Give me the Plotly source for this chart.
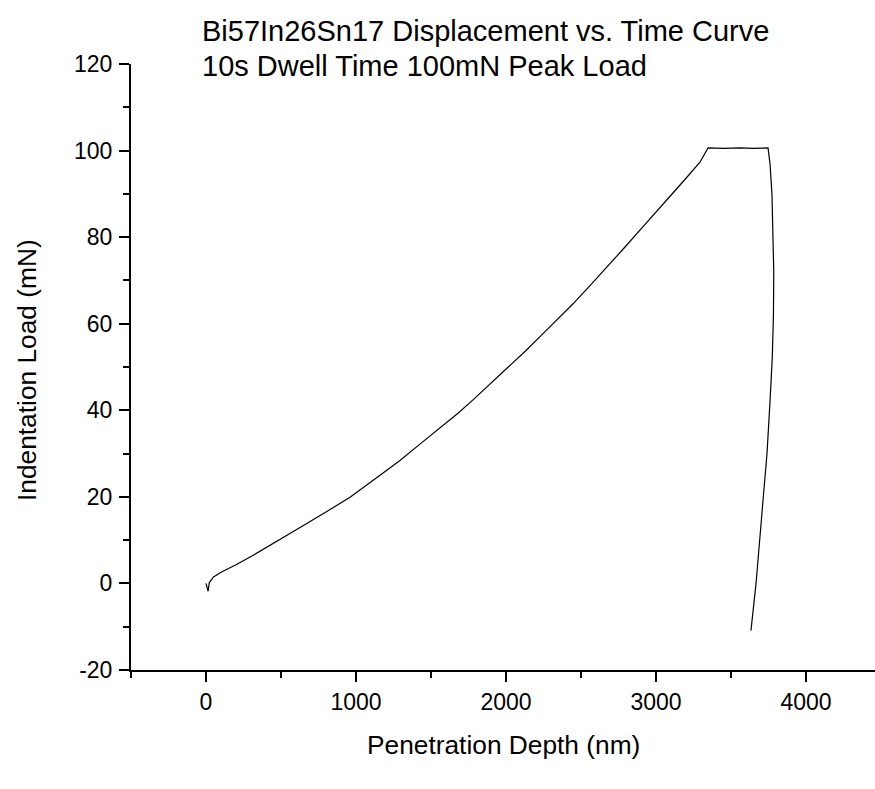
import plotly.graph_objects as go

# Loading segment
load_depth = [0, 14, 22, 50, 100, 200, 300, 400, 500, 627, 800, 960, 1160, 1293, 1420,
              1560, 1680, 1780, 1900, 2007, 2130, 2247, 2350, 2447, 2560, 2673, 2780,
              2893, 3000, 3113, 3200, 3293, 3347]
load_force = [0, -1.8, 0.2, 1.5, 2.6, 4.3, 6.2, 8.2, 10.3, 12.9, 16.5, 19.9, 25.0, 28.4, 32.0,
              35.9, 39.3, 42.4, 46.2, 49.7, 53.7, 57.7, 61.2, 64.6, 68.8, 73.0, 77.2,
              81.6, 85.9, 90.2, 93.6, 97.3, 100.6]
# Dwell (hold) segment
hold_depth = [3450, 3560, 3650, 3747]
hold_force = [100.5, 100.6, 100.5, 100.6]
# Unloading segment
unload_depth = [3760, 3773, 3780, 3785, 3783, 3775, 3760, 3740, 3713, 3690, 3667, 3633]
unload_force = [97, 90, 82, 72, 62, 52, 42, 30, 19, 10, 0, -10.9]

depth = load_depth + hold_depth + unload_depth
force = load_force + hold_force + unload_force

title_lines = ["Bi57In26Sn17 Displacement vs. Time Curve", "10s Dwell Time 100mN Peak Load"]
x_title = "Penetration Depth (nm)"
y_title = "Indentation Load (mN)"
x_tickvals = [0, 1000, 2000, 3000, 4000]
x_ticktext = ["0", "1000", "2000", "3000", "4000"]
y_tickvals = [-20, 0, 20, 40, 60, 80, 100, 120]
y_ticktext = ["-20", "0", "20", "40", "60", "80", "100", "120"]

FONT = "Liberation Sans, Arial, sans-serif"

fig = go.Figure()
fig.add_trace(go.Scatter(x=depth, y=force, mode="lines",
                         line=dict(color="black", width=1.2), showlegend=False))

W, H = 875, 789
L, R, T, B = 131, 0, 64, 119
pw, ph = W - L - R, H - T - B

axis_common = dict(showline=True, linecolor="black", linewidth=2, ticks="outside",
                   ticklen=10, tickwidth=2, tickcolor="black", showgrid=False,
                   zeroline=False, automargin=False,
                   tickfont=dict(family=FONT, size=23, color="black"))

fig.update_xaxes(range=[-500, 4460], tickmode="array", tickvals=x_tickvals,
                 ticktext=x_ticktext,
                 minor=dict(ticks="outside", tick0=0, dtick=500, ticklen=6, tickwidth=2,
                            tickcolor="black", showgrid=False),
                 **axis_common)
fig.update_yaxes(range=[-20, 120], tickmode="array", tickvals=y_tickvals,
                 ticktext=y_ticktext, ticklabelstandoff=2,
                 minor=dict(ticks="outside", tick0=0, dtick=10, ticklen=6, tickwidth=2,
                            tickcolor="black", showgrid=False),
                 **axis_common)

ann = []
ann.append(dict(text=title_lines[0], x=(200 - L) / pw, y=1 + (T - 31) / ph,
                xanchor="left", yanchor="middle"))
ann.append(dict(text=title_lines[1], x=(200 - L) / pw, y=1 + (T - 66) / ph,
                xanchor="left", yanchor="middle"))
for a in ann:
    a.update(xref="paper", yref="paper", showarrow=False,
             font=dict(family=FONT, size=29, color="black"))
ann.append(dict(text=x_title, x=(503 - L) / pw, y=-(745 - (T + ph)) / ph,
                xref="paper", yref="paper", showarrow=False, xanchor="center",
                yanchor="middle", font=dict(family=FONT, size=26.3, color="black")))
ann.append(dict(text=y_title, x=(27 - L) / pw, y=((T + ph) - 370) / ph,
                xref="paper", yref="paper", showarrow=False, xanchor="center",
                yanchor="middle", textangle=-90,
                font=dict(family=FONT, size=26.3, color="black")))

fig.update_layout(width=W, height=H, margin=dict(l=L, r=R, t=T, b=B),
                  plot_bgcolor="white", paper_bgcolor="white",
                  annotations=ann, font=dict(family=FONT))

fig.write_html("out.html", config={"displayModeBar": False},
               post_script="document.body.style.margin='0';document.body.style.overflow='hidden';")
